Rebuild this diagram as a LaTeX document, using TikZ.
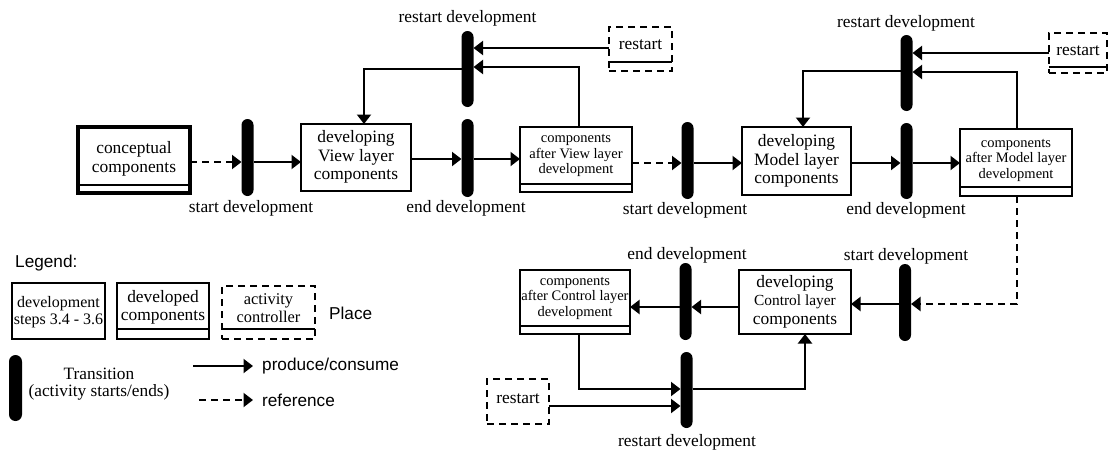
\documentclass[tikz,border=0pt]{standalone}
\usepackage{fontspec}
\setmainfont{Liberation Serif}
\setsansfont{Liberation Sans}
\usetikzlibrary{arrows.meta}
\newcommand\bigtxt{\fontsize{17.4}{18.5}\selectfont}
\newcommand\smalltxt{\fontsize{14.5}{15.5}\selectfont}
\newcommand\midtxt{\fontsize{15.4}{18.5}\selectfont}
\begin{document}
\begin{tikzpicture}[x=1pt,y=-1pt,
  placebox/.style={draw, line width=2pt, inner sep=0pt, outer sep=0pt},
  ctrlbox/.style={placebox, dash pattern=on 7pt off 5pt},
  trans/.style={fill=black, rounded corners=6pt, minimum width=12pt, inner sep=0pt, outer sep=0pt},
  txt/.style={align=center, inner sep=0pt, font=\bigtxt},
  stxt/.style={align=center, inner sep=0pt, font=\smalltxt},
  lbl/.style={inner sep=0pt, font=\bigtxt},
  sans/.style={inner sep=0pt, font=\sffamily\fontsize{17.2}{19}\selectfont},
  arr/.style={line width=2pt, -{Triangle[length=9.5pt,width=14pt]}},
  refarr/.style={arr, dash pattern=on 7pt off 5pt},
  sep/.style={line width=1.2pt}]
\useasboundingbox (0,0) rectangle (1109,450);

% ---------- places ----------
\node[placebox, line width=3.5pt, minimum width=112pt, minimum height=66pt] (ccb) at (134,160) {};
\node[txt] (cc) at (134,159) {conceptual\\components};
\draw[sep] ([yshift=8pt]ccb.south west) -- ([yshift=8pt]ccb.south east);

\node[placebox, minimum width=110pt, minimum height=67pt] (vdevb) at (356,157.5) {};
\node[txt] (vdev) at (356,157) {developing\\View layer\\components};

\node[ctrlbox, minimum width=63pt, minimum height=44pt] (rs1b) at (640.5,49) {};
\node[txt] (rs1) at (640.5,45) {restart};
\draw[sep] ([yshift=9pt]rs1b.south west) -- ([yshift=9pt]rs1b.south east);

\node[placebox, minimum width=112pt, minimum height=65pt] (cvb) at (576,159.5) {};
\node[stxt] (cv) at (576,155.5) {components\\after View layer\\development};
\draw[sep] ([yshift=8pt]cvb.south west) -- ([yshift=8pt]cvb.south east);

\node[placebox, minimum width=109pt, minimum height=68pt] (mdevb) at (796.5,161) {};
\node[txt] (mdev) at (796.5,161) {developing\\Model layer\\components};

\node[placebox, minimum width=112pt, minimum height=67pt] (cmb) at (1016,162.5) {};
\node[stxt] (cm) at (1016,160) {components\\after Model layer\\development};
\draw[sep] ([yshift=9pt]cmb.south west) -- ([yshift=9pt]cmb.south east);

\node[ctrlbox, minimum width=58pt, minimum height=40pt] (rs2b) at (1078,53) {};
\node[txt] (rs2) at (1078,50.5) {restart};
\draw[sep] ([yshift=6pt]rs2b.south west) -- ([yshift=6pt]rs2b.south east);

\node[placebox, minimum width=112pt, minimum height=64pt] (ctrlb) at (795,302) {};
\node[txt] (ctrl) at (795,301.5) {developing\\{\midtxt Control layer}\\components};

\node[placebox, minimum width=110pt, minimum height=64pt] (cacb) at (575,302) {};
\node[stxt] (cac) at (575,298) {components\\after Control layer\\development};
\draw[sep] ([yshift=8pt]cacb.south west) -- ([yshift=8pt]cacb.south east);

\node[ctrlbox, minimum width=62pt, minimum height=45pt] (rs3b) at (518,401.5) {};
\node[txt] (rs3) at (518,399) {restart};

% ---------- transitions ----------
\node[trans, minimum height=77pt] (t1) at (247.5,157.5) {};
\node[trans, minimum height=78pt] (te1) at (467.5,158) {};
\node[trans, minimum height=76pt] (tr1) at (467.5,69) {};
\node[trans, minimum height=77pt] (t2) at (687.5,160.5) {};
\node[trans, minimum height=76pt] (te2) at (906.5,161) {};
\node[trans, minimum height=76pt] (tr2) at (906.5,73) {};
\node[trans, minimum height=77pt] (t3) at (905,302.5) {};
\node[trans, minimum height=77pt] (te3) at (685.5,301.5) {};
\node[trans, minimum height=76pt] (tr3) at (686.5,390) {};

% ---------- transition labels ----------
\node[lbl] (l1) at (251,208) {start development};
\node[lbl] (l2) at (467.5,18) {restart development};
\node[lbl] (l3) at (466,208) {end development};
\node[lbl] (l4) at (685,210) {start development};
\node[lbl] (l5) at (906,23) {restart development};
\node[lbl] (l6) at (906,210) {end development};
\node[lbl] (l7) at (906,256) {start development};
\node[lbl] (l8) at (687,255) {end development};
\node[lbl] (l9) at (687,442) {restart development};

% ---------- connectors ----------
\draw[refarr] (ccb.east |- 0,162) -- (t1.west |- 0,162);
\draw[arr] (t1.east |- 0,162) -- (vdevb.west |- 0,162);
\draw[arr] (vdevb.east |- 0,159) -- (te1.west |- 0,159);
\draw[arr] (te1.east |- 0,159) -- (cvb.west |- 0,159);
\draw[arr] (rs1b.west |- 0,48) -- (tr1.east |- 0,48);
\draw[arr] ([xshift=3pt]cvb.north) |- (tr1.east |- 0,67);
\draw[arr] (tr1.west |- 0,69) -| ([xshift=8pt]vdevb.north);

\draw[refarr] (cvb.east |- 0,163) -- (t2.west |- 0,163);
\draw[arr] (t2.east |- 0,163) -- (mdevb.west |- 0,163);
\draw[arr] (mdevb.east |- 0,163) -- (te2.west |- 0,163);
\draw[arr] (te2.east |- 0,163) -- (cmb.west |- 0,163);
\draw[arr] (rs2b.west |- 0,53) -- (tr2.east |- 0,53);
\draw[arr] ([xshift=1pt]cmb.north) |- (tr2.east |- 0,72);
\draw[arr] (tr2.west |- 0,71) -| ([xshift=6.5pt]mdevb.north);

\draw[refarr] ([xshift=1pt]cmb.south) |- (t3.east |- 0,304);
\draw[arr] (t3.west |- 0,304) -- (ctrlb.east |- 0,304);
\draw[arr] (ctrlb.west |- 0,307) -- (te3.east |- 0,307);
\draw[arr] (te3.west |- 0,307) -- (cacb.east |- 0,307);
\draw[arr] ([xshift=4pt]cacb.south) |- (tr3.west |- 0,389);
\draw[arr] (rs3b.east |- 0,406) -- (tr3.west |- 0,406);
\draw[arr] (tr3.east |- 0,389) -| ([xshift=10pt]ctrlb.south);

% ---------- legend ----------
\node[sans, anchor=west] (leg) at (15,263) {Legend:};
\node[placebox, minimum width=93pt, minimum height=56pt] (lb1b) at (58.5,311) {};
\node[align=center, inner sep=0pt, font=\fontsize{16}{16.5}\selectfont] (lb1) at (58.5,312) {development\\steps 3.4 - 3.6};
\node[placebox, minimum width=92pt, minimum height=56pt] (lb2b) at (163,311) {};
\node[align=center, inner sep=0pt, font=\fontsize{17.4}{18.5}\selectfont] (lb2) at (163,307.5) {developed\\components};
\draw[sep] ([yshift=10pt]lb2b.south west) -- ([yshift=10pt]lb2b.south east);
\node[ctrlbox, minimum width=93pt, minimum height=53pt] (lb3b) at (268.5,312.5) {};
\node[align=center, inner sep=0pt, font=\fontsize{16.4}{18}\selectfont] (lb3) at (268.5,308) {activity\\controller};
\draw[sep] ([yshift=10pt]lb3b.south west) -- ([yshift=10pt]lb3b.south east);
\node[sans, anchor=west] (lplace) at (329,313) {Place};

\node[trans, minimum width=13pt, minimum height=66pt, rounded corners=6.5pt] (lt) at (15.5,388) {};
\node[align=center, inner sep=0pt, font=\fontsize{17.3}{16.5}\selectfont] (ltt) at (99,384) {Transition\\(activity starts/ends)};

\coordinate (pcs) at (193,366);
\coordinate (pce) at (253,366);
\draw[arr] (pcs) -- (pce);
\node[sans, anchor=west] (lpc) at (262,366) {produce/consume};
\coordinate (rfs) at (199,400);
\coordinate (rfe) at (253,400);
\draw[refarr] (rfs) -- (rfe);
\node[sans, anchor=west] (lrf) at (262,400) {reference};
\end{tikzpicture}
\end{document}
